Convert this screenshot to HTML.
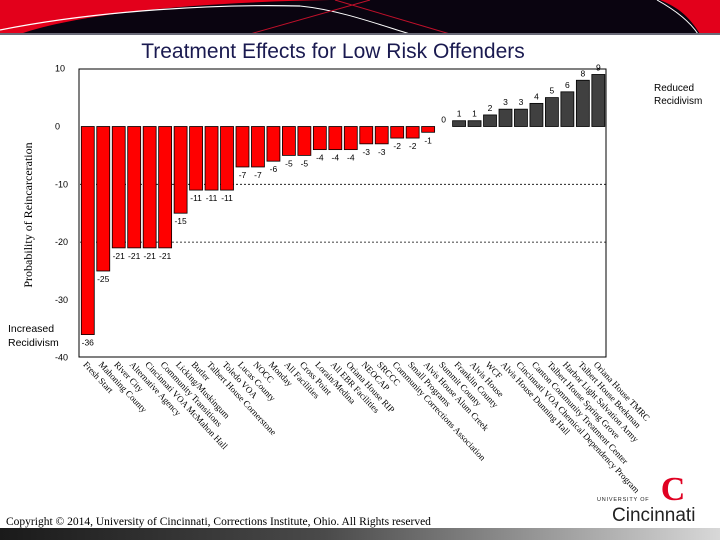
<!DOCTYPE html>
<html><head><meta charset="utf-8"><style>
html,body{margin:0;padding:0;background:#fff;}
body{width:720px;height:540px;position:relative;overflow:hidden;font-family:"Liberation Sans",sans-serif;}
</style></head><body>
<svg width="720" height="540" viewBox="0 0 720 540" xmlns="http://www.w3.org/2000/svg">
<g>
<rect x="0" y="0" width="720" height="34" fill="#0a0410"/>
<path d="M0,0 L330,0 C220,2 90,10 20,34 L0,34 Z" fill="#e3001b"/>
<path d="M0,30 C100,10 220,4 300,6" stroke="#fff" stroke-width="1.2" fill="none"/>
<path d="M300,6 C340,10 380,25 410,34" stroke="#fff" stroke-width="1" fill="none"/>
<path d="M250,34 L370,0 M335,0 L450,34" stroke="#c0102a" stroke-width="1" fill="none"/>
<path d="M660,0 L720,0 L720,34 L700,34 C690,18 680,8 660,0 Z" fill="#e3001b"/>
<path d="M657,0 C675,10 690,22 698,34" stroke="#fff" stroke-width="1" fill="none"/>
<rect x="0" y="33" width="720" height="2" fill="#6a6a78"/>
</g>
<text x="333" y="58" text-anchor="middle" font-size="21" fill="#1a1a50">Treatment Effects for Low Risk Offenders</text>
<g id="chart"></g>
<text x="654" y="91" font-size="10" fill="#000">Reduced</text>
<text x="654" y="104" font-size="10" fill="#000">Recidivism</text>
<text x="8" y="332" font-size="10.5" fill="#000">Increased</text>
<text x="8" y="346" font-size="10.5" fill="#000">Recidivism</text>
<text transform="translate(32,215) rotate(-90)" text-anchor="middle" font-family="Liberation Serif,serif" font-size="12" fill="#000">Probability of Reincarceration</text>
<text x="6" y="525" font-family="Liberation Serif,serif" font-size="11.5" fill="#000">Copyright © 2014, University of Cincinnati, Corrections Institute, Ohio. All Rights reserved</text>
<defs><linearGradient id="fg" x1="0" x2="1"><stop offset="0" stop-color="#1a1a1a"/><stop offset="0.45" stop-color="#4a4a4a"/><stop offset="1" stop-color="#d8d8d8"/></linearGradient></defs>
<rect x="0" y="528" width="720" height="12" fill="url(#fg)"/>
<g>
<text x="597" y="501" font-size="5.5" letter-spacing="0.8" fill="#222">UNIVERSITY OF</text>
<text x="673" y="500" text-anchor="middle" font-family="Liberation Serif,serif" font-size="34" font-weight="bold" fill="#e00122">C</text>
<text x="612" y="521" font-size="19" fill="#222">Cincinnati</text>
</g>
</svg>
<script>
const categories=["Fresh Start","Mahoning County","River City","Alternative Agency","Cincinnati VOA McMahon Hall","Community Transitions","Licking/Muskingum","Butler","Talbert House Cornerstone","Toledo VOA","Lucas County","NOCC","Monday","All Facilities","Cross Point","Lorain/Medina","All EBR Facilities","Oriana House RIP","NEOCAP","SRCCC","Community Corrections Association","Small Programs","Alvis House Alum Creek","Summit County","Franklin County","Alvis House","WCF","Alvis House Dunning Hall","Cincinnati VOA Chemical Dependency Program","Canton Community Treatment Center","Talbert House Spring Grove","Harbor Light Salvation Army","Talbert House Beekman","Oriana House TMRC"];
const values=[-36,-25,-21,-21,-21,-21,-15,-11,-11,-11,-7,-7,-6,-5,-5,-4,-4,-4,-3,-3,-2,-2,-1,0,1,1,2,3,3,4,5,6,8,9];
const yTicks=[10,0,-10,-20,-30,-40];
const NS="http://www.w3.org/2000/svg";
const g=document.getElementById('chart');
const L=80,R=606,T=69,B=357;
function y(v){return 126.5-v*5.78;}
const band=(R-L)/categories.length;
function x(i){return L+i*band;}
function mk(t,a,p){const e=document.createElementNS(NS,t);for(const k in a)e.setAttribute(k,a[k]);(p||g).appendChild(e);return e;}
yTicks.forEach(t=>{
 const e=mk('text',{x:55,y:y(t)+3,'font-size':9,fill:'#000'});e.textContent=t;
 
 
 if(t===-10||t===-20){const l=mk('line',{x1:L,x2:R,y1:y(t),y2:y(t),stroke:'#000','stroke-width':0.8,'stroke-dasharray':'2,2'});
 
 }
});
const box=mk('rect',{x:L-1,y:T,width:R-L+1,height:B-T,fill:'none',stroke:'#000','stroke-width':1});


values.forEach((v,i)=>{
 const bx=x(i)+1.3,bw=band-2.5;
 const y0=y(0),y1=y(v);
 const r=mk('rect',{x:bx,y:Math.min(y0,y1),width:bw,height:Math.max(Math.abs(y1-y0),0),fill:v<0?'#ff0000':'#404040',stroke:'#000','stroke-width':0.8});
 
 
 const tl=mk('text',{x:bx+bw/2,y:v<0?y1+11:y1-4,'text-anchor':'middle','font-size':8.5,fill:'#000'});
 tl.textContent=v;
 
 
 const cx=x(i)+band/2;
 const c=mk('text',{transform:`translate(${cx-5},${B+8}) rotate(47)`,'font-family':'Liberation Serif,serif','font-size':9,fill:'#000'});
 c.textContent=categories[i];
 
 
});
</script>
</body></html>
